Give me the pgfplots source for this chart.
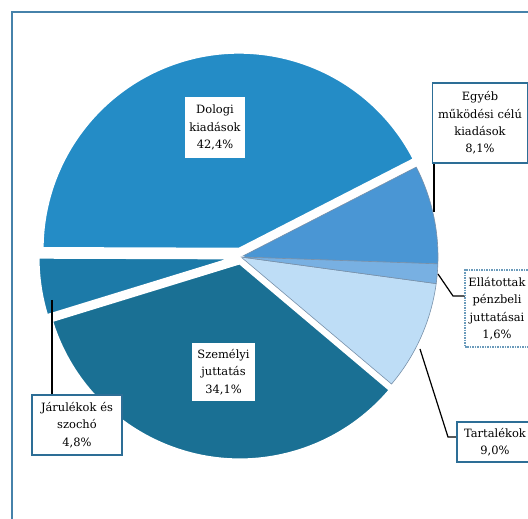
\documentclass[border=0pt]{standalone}
\usepackage{pgfplots}
\usepackage{pgfplotstable}
\pgfplotsset{compat=1.18}
\usepackage{fontspec}
\setmainfont{DejaVu Serif}

\definecolor{frameblue}{RGB}{70,130,170}
\definecolor{boxblue}{RGB}{45,110,150}
\definecolor{slice0}{RGB}{74,150,212}
\definecolor{slice1}{RGB}{36,140,198}
\definecolor{slice2}{RGB}{28,122,168}
\definecolor{slice3}{RGB}{26,112,148}
\definecolor{slice4}{RGB}{190,221,246}
\definecolor{slice5}{RGB}{120,176,226}
\definecolor{thinedge}{RGB}{120,145,170}

\tikzset{lab/.style={fill=white, align=center, inner sep=2bp,
    font=\fontsize{11.5}{17.5}\selectfont}}

% slices counter-clockwise from the right, pct in %, expl = offset (bp)
\pgfplotstableread{
id pct expl
0 8.1 0
1 42.4 8
2 4.8 6
3 34.1 6
4 9.0 0
5 1.6 0
}\piedata

% pie centre and radius in picture pixels (y up)
\def\cx{241}
\def\cy{262}
\def\rad{197bp}

\def\slice#1#2{%
  \filldraw[fill=slice#1, #2] (axis cs:\cx,\cy)
    ++(\csname ma#1\endcsname:\csname ex#1\endcsname bp)
    -- ++(\csname sa#1\endcsname:\rad)
    arc[start angle=\csname sa#1\endcsname, end angle=\csname ea#1\endcsname, radius=\rad]
    -- cycle;}

\begin{document}
\begin{tikzpicture}
\xdef\cum{-2}
\foreach \i in {0,...,5}{%
  \pgfplotstablegetelem{\i}{pct}\of\piedata
  \pgfmathsetmacro\tmpb{\cum+3.6*\pgfplotsretval}%
  \pgfmathsetmacro\tmpm{(\cum+\tmpb)/2}%
  \expandafter\xdef\csname sa\i\endcsname{\cum}%
  \expandafter\xdef\csname ea\i\endcsname{\tmpb}%
  \expandafter\xdef\csname ma\i\endcsname{\tmpm}%
  \pgfplotstablegetelem{\i}{expl}\of\piedata
  \expandafter\xdef\csname ex\i\endcsname{\pgfplotsretval}%
  \xdef\cum{\tmpb}%
}
\useasboundingbox (0,0) rectangle (528bp,519bp);
\clip (0,0) rectangle (528bp,519bp);
\begin{axis}[
  at={(0,0)}, anchor=south west,
  x=1bp, y=1bp,
  xmin=0, xmax=528, ymin=0, ymax=519,
  hide axis, clip=false,
]
% frame
\draw[frameblue, line width=2bp] (axis cs:12,0) -- (axis cs:12,507) -- (axis cs:530,507);

% small slices first, thin edges
\slice{0}{draw=thinedge, line width=0.6bp}
\slice{4}{draw=thinedge, line width=0.6bp}
\slice{5}{draw=thinedge, line width=0.6bp}
% exploded slices with white gaps
\slice{1}{draw=white, line width=3bp}
\slice{2}{draw=white, line width=3bp}
\slice{3}{draw=white, line width=3bp}

% leader lines
\draw[black, line width=1.2bp] (axis cs:434,356) -- (axis cs:434,307);
\draw[black, line width=1.2bp] (axis cs:438,245) -- (axis cs:453,223) -- (axis cs:465,223);
\draw[black, line width=1.2bp] (axis cs:420,170) -- (axis cs:448,82) -- (axis cs:457,82);
\draw[black, line width=1.2bp] (axis cs:52,219) -- (axis cs:52,124);

% labels
\node[lab, minimum width=58bp, minimum height=61bp, text width=56bp]
  at (axis cs:215,391.5) {Dologi\\kiadások\\42,4\%};
\node[lab, minimum width=63bp, minimum height=58bp, text width=59bp]
  at (axis cs:223.5,147) {Személyi\\juttatás\\34,1\%};
\node[lab, draw=boxblue, line width=1.2bp, minimum width=95bp, minimum height=80bp, text width=91bp]
  at (axis cs:480,396) {Egyéb\\működési célú\\kiadások\\8,1\%};
\node[lab, draw=frameblue!80, line width=1.5bp, densely dotted, minimum width=64bp, minimum height=77bp, text width=60bp, inner xsep=1bp]
  at (axis cs:497,210.5) {Ellátottak\\pénzbeli\\juttatásai\\1,6\%};
\node[lab, draw=boxblue, line width=1.2bp, minimum width=90bp, minimum height=60bp, text width=86bp]
  at (axis cs:77,94) {Járulékok és\\szochó\\4,8\%};
\node[lab, draw=boxblue, line width=1.2bp, minimum width=76bp, minimum height=40bp, text width=72bp]
  at (axis cs:495,77) {Tartalékok\\9,0\%};
\end{axis}
\end{tikzpicture}
\end{document}
